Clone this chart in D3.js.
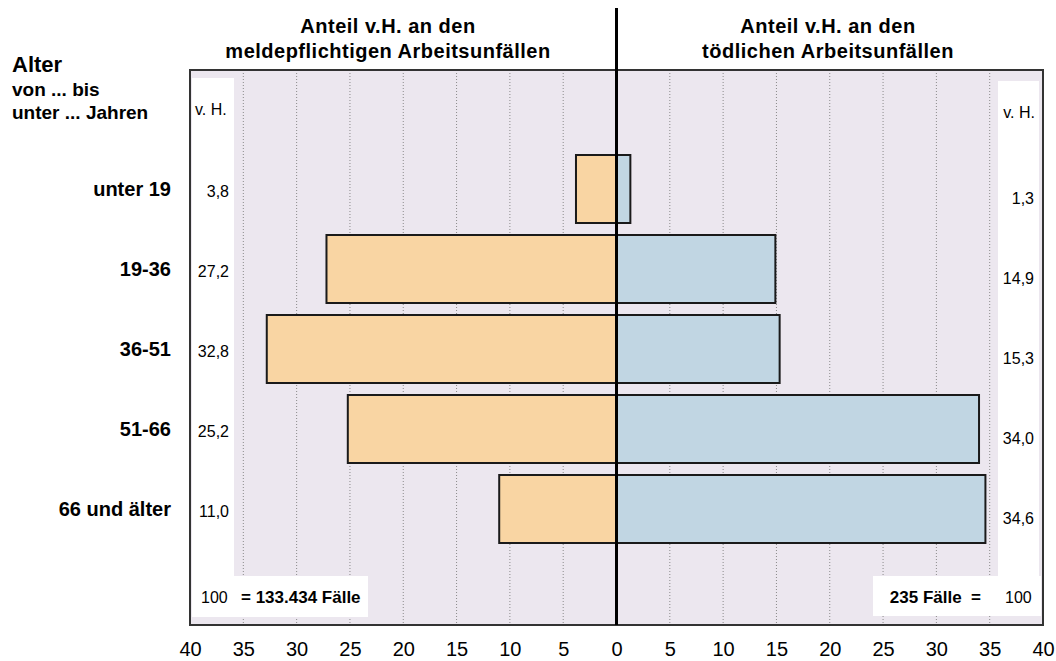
<!DOCTYPE html>
<html><head><meta charset="utf-8">
<script src="https://cdn.jsdelivr.net/npm/d3@7"></script>
<style>
html,body{margin:0;padding:0;background:#fff;}
svg{display:block;font-family:"Liberation Sans",Arial,Helvetica,sans-serif;}
</style></head>
<body>
<svg id="chart" width="1056" height="661"></svg>
<script>
// ---- data ----
const categories = ["unter 19", "19-36", "36-51", "51-66", "66 und älter"];
const meldepflichtig = [3.8, 27.2, 32.8, 25.2, 11.0];
const toedlich = [1.3, 14.9, 15.3, 34.0, 34.6];
const tickValues = [0, 5, 10, 15, 20, 25, 30, 35, 40];
const titleLeft = ["Anteil v.H. an den", "meldepflichtigen Arbeitsunfällen"];
const titleRight = ["Anteil v.H. an den", "tödlichen Arbeitsunfällen"];
const axisTitle = ["Alter", "von ... bis", "unter ... Jahren"];
const totalLeft = "133.434";
const totalRight = "235";

// ---- layout ----
const svg = d3.select("#chart");
const frame = {x0: 190, x1: 1043, y0: 70, y1: 625};
const cx = 616.5;
const fmt = v => d3.format(".1f")(v).replace(".", ",");

const xL = d3.scaleLinear().domain([0, 40]).range([cx, frame.x0]);
const xR = d3.scaleLinear().domain([0, 40]).range([cx, frame.x1]);
const y = d3.scaleBand().domain(categories).range([149, 549]).paddingInner(0.15).paddingOuter(0.075);

// background
svg.append("rect").attr("x", frame.x0).attr("y", frame.y0)
  .attr("width", frame.x1 - frame.x0).attr("height", frame.y1 - frame.y0)
  .attr("fill", "#ECE7EF");

// gridlines
const gridVals = tickValues.filter(v => v > 0 && v < 40);
const grid = svg.append("g");
[xL, xR].forEach(sc => {
  grid.selectAll(null).data(gridVals).enter().append("line")
    .attr("x1", d => sc(d)).attr("x2", d => sc(d))
    .attr("y1", frame.y0).attr("y2", frame.y1)
    .attr("stroke", "#8a8a8a").attr("stroke-width", 1).attr("stroke-dasharray", "1,2");
});

// white label panels
svg.append("rect").attr("x", 192).attr("y", 78).attr("width", 42).attr("height", 539).attr("fill", "#fff");
svg.append("rect").attr("x", 192).attr("y", 576).attr("width", 176).attr("height", 41).attr("fill", "#fff");
svg.append("rect").attr("x", 998).attr("y", 81).attr("width", 41).attr("height", 500).attr("fill", "#fff");
svg.append("rect").attr("x", 873).attr("y", 576).attr("width", 168).attr("height", 40).attr("fill", "#fff");

// frame
svg.append("rect").attr("x", frame.x0).attr("y", frame.y0)
  .attr("width", frame.x1 - frame.x0).attr("height", frame.y1 - frame.y0)
  .attr("fill", "none").attr("stroke", "#333").attr("stroke-width", 2);

// bars
svg.append("g").selectAll("rect").data(categories).enter().append("rect")
  .attr("x", (d, i) => xL(meldepflichtig[i])).attr("y", d => y(d))
  .attr("width", (d, i) => cx - xL(meldepflichtig[i])).attr("height", y.bandwidth())
  .attr("fill", "#F9D5A3").attr("stroke", "#1a1a1a").attr("stroke-width", 2);
svg.append("g").selectAll("rect").data(categories).enter().append("rect")
  .attr("x", cx).attr("y", d => y(d))
  .attr("width", (d, i) => xR(toedlich[i]) - cx).attr("height", y.bandwidth())
  .attr("fill", "#C1D6E3").attr("stroke", "#1a1a1a").attr("stroke-width", 2);

// center line
svg.append("line").attr("x1", cx).attr("x2", cx).attr("y1", 8).attr("y2", frame.y1)
  .attr("stroke", "#000").attr("stroke-width", 3);

// category labels
svg.append("g").selectAll("text").data(categories).enter().append("text")
  .attr("x", 171).attr("y", d => y(d) + y.bandwidth() / 2 + 7)
  .attr("text-anchor", "end").attr("font-size", 20).attr("font-weight", "bold")
  .attr("fill", "#000").text(d => d);

// value labels
svg.append("g").selectAll("text").data(meldepflichtig).enter().append("text")
  .attr("x", 229).attr("y", (d, i) => y(categories[i]) + y.bandwidth() / 2 + 8)
  .attr("text-anchor", "end").attr("font-size", 16).attr("fill", "#000").text(d => fmt(d));
svg.append("g").selectAll("text").data(toedlich).enter().append("text")
  .attr("x", 1034).attr("y", (d, i) => y(categories[i]) + y.bandwidth() / 2 + 15)
  .attr("text-anchor", "end").attr("font-size", 16).attr("fill", "#000").text(d => fmt(d));

// v. H.
svg.append("text").attr("x", 195).attr("y", 115).attr("font-size", 16).attr("fill", "#000").text("v. H.");
svg.append("text").attr("x", 1035).attr("y", 118).attr("text-anchor", "end").attr("font-size", 16).attr("fill", "#000").text("v. H.");

// totals
svg.append("text").attr("x", 201).attr("y", 603).attr("font-size", 16).attr("fill", "#000").text("100");
svg.append("text").attr("x", 241).attr("y", 603).attr("font-size", 17).attr("font-weight", "bold").attr("fill", "#000").text("= " + totalLeft + " Fälle");
svg.append("text").attr("x", 981).attr("y", 603).attr("text-anchor", "end").attr("font-size", 17).attr("font-weight", "bold").attr("fill", "#000").text(totalRight + " Fälle\u00a0\u00a0=");
svg.append("text").attr("x", 1005).attr("y", 603).attr("font-size", 16).attr("fill", "#000").text("100");

// titles
function title(lines, x) {
  const t = svg.append("text").attr("text-anchor", "middle").attr("font-size", 20)
    .attr("font-weight", "bold").attr("letter-spacing", 0.5).attr("fill", "#000");
  lines.forEach((l, i) => t.append("tspan").attr("x", x).attr("y", 33 + i * 25).text(l));
}
title(titleLeft, 388);
title(titleRight, 828);

// axis title
const at = svg.append("text").attr("font-weight", "bold").attr("fill", "#000");
at.append("tspan").attr("x", 12).attr("y", 72).attr("font-size", 22).text(axisTitle[0]);
at.append("tspan").attr("x", 12).attr("y", 96).attr("font-size", 19).text(axisTitle[1]);
at.append("tspan").attr("x", 12).attr("y", 119).attr("font-size", 19).text(axisTitle[2]);

// bottom axes
const axL = d3.axisBottom(xL).tickValues(tickValues).tickSize(0).tickPadding(17).tickFormat(d3.format("d"));
const axR = d3.axisBottom(xR).tickValues(tickValues.filter(v => v > 0)).tickSize(0).tickPadding(17).tickFormat(d3.format("d"));
[axL, axR].forEach(ax => {
  const g = svg.append("g").attr("transform", `translate(0,${frame.y1})`).call(ax);
  g.select(".domain").remove();
  g.selectAll("text").attr("font-size", 20).attr("font-family", "Liberation Sans, Arial, sans-serif").attr("fill", "#000");
});
</script>
</body></html>
